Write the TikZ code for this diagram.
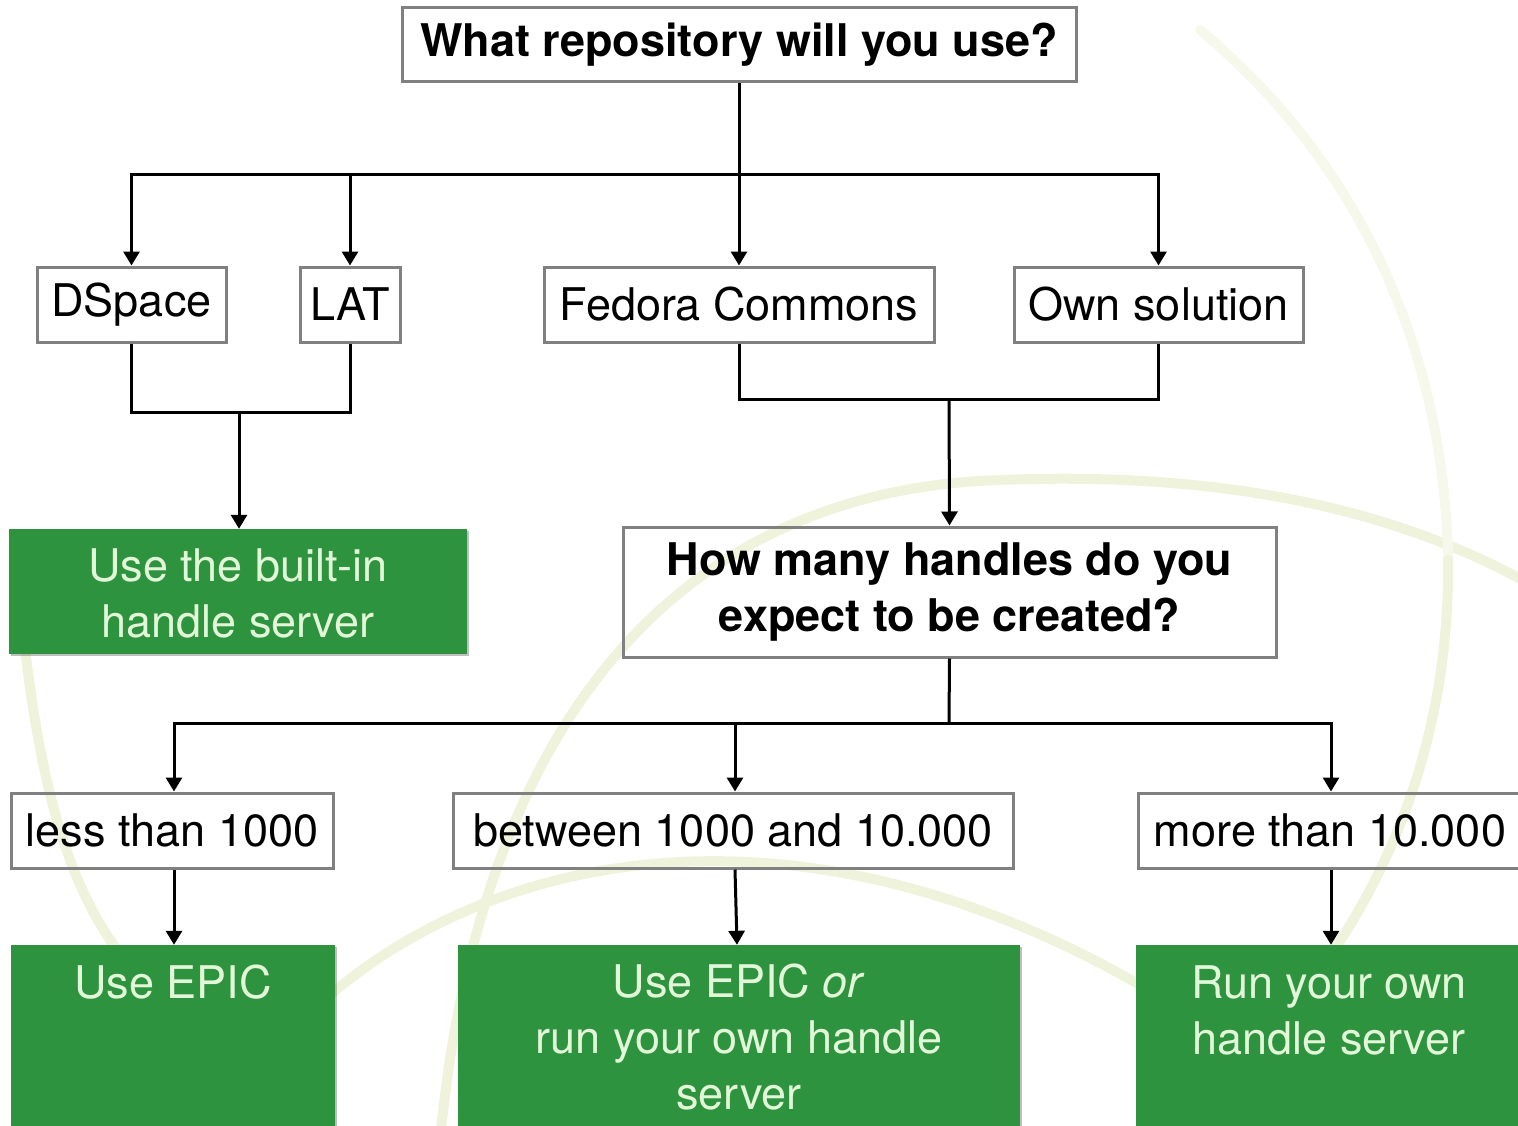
\documentclass[tikz,border=0pt]{standalone}
\usepackage{fontspec}
\setmainfont{TeX Gyre Heros}
\usetikzlibrary{arrows.meta,shadows}
\definecolor{boxgray}{RGB}{128,128,128}
\definecolor{ugreen}{RGB}{46,147,62}
\definecolor{gtextc}{RGB}{226,246,216}
\definecolor{arcc}{RGB}{239,243,220}
\tikzset{
  qbox/.style={draw=boxgray, line width=3pt, inner sep=0pt, align=center,
    font=\bfseries\fontsize{45}{56}\selectfont},
  obox/.style={draw=boxgray, line width=3pt, inner sep=0pt, minimum height=75pt,
    font=\fontsize{45}{56}\selectfont},
  gbox/.style={fill=ugreen, inner sep=0pt,
    drop shadow={shadow xshift=2pt, shadow yshift=-2pt, opacity=0.25, fill=black}},
  gtext/.style={text=gtextc, align=center, inner sep=0pt,
    font=\fontsize{45}{56}\selectfont},
  conn/.style={line width=3pt, black},
  arr/.style={conn, -{Triangle[width=16pt,length=14pt]}},
  arcline/.style={line width=10pt, color=arcc, line cap=round}
}
\begin{document}
\begin{tikzpicture}[x=1pt,y=-1pt]
\useasboundingbox (0,0) rectangle (1518,1126);
\clip (0,0) rectangle (1518,1126);
% background arcs
\draw[arcline] (440,1140) .. controls (480,720) and (680,490) .. (1000,480)
  .. controls (1250,470) and (1420,520) .. (1540,590);
\draw[arcline, color=arcc!55] (1200,30) .. controls (1380,180) and (1445,380) .. (1448,560);
\draw[arcline] (1448,560) .. controls (1450,720) and (1400,860) .. (1320,970);
\draw[arcline] (15,540) .. controls (30,750) and (60,880) .. (125,960);
\draw[arcline] (330,995) .. controls (500,850) and (800,790) .. (1140,985);

% top level
\node[qbox, minimum width=674pt, minimum height=74pt] (q1) at (739,45) {What repository will you use?};
\node[obox, minimum width=189pt] (dspace) at (131.5,304.5) {DSpace};
\node[obox, minimum width=100pt] (lat) at (350,304.5) {LAT};
\node[obox, minimum width=390pt] (fedora) at (739,304.5) {Fedora Commons};
\node[obox, minimum width=289pt] (own) at (1158.5,304.5) {Own solution};

\coordinate (j1) at (739,175);
\draw[conn] (q1.south) -- (j1);
\draw[arr] (j1) -| (dspace.north);
\draw[arr] (j1) -| (lat.north);
\draw[arr] (j1) -- (fedora.north);
\draw[arr] (j1) -| (own.north);

% built-in
\node[gbox, minimum width=458pt, minimum height=125pt] (builtin) at (238,591.5) {};
\node[gtext] (builtintxt) at (238,593) {Use the built-in\\handle server};
\coordinate (j2) at (239,412);
\draw[conn] (dspace.south) |- (j2);
\draw[conn] (lat.south) |- (j2);
\draw[arr] (j2) -- (j2 |- builtin.north);

% how many
\node[qbox, minimum width=653pt, minimum height=130pt] (q2) at (949.5,592) {How many handles do you\\expect to be created?};
\coordinate (j3) at (949,399);
\draw[conn] (fedora.south) |- (j3);
\draw[conn] (own.south) |- (j3);
\draw[arr] (j3) -- (q2.north);

% counts
\node[obox, minimum width=322pt] (less) at (172,830.5) {less than 1000};
\node[obox, minimum width=560pt] (between) at (733,830.5) {between 1000 and 10.000};
\node[obox, minimum width=384pt] (more) at (1330,830.5) {more than 10.000};
\coordinate (j4) at (949,723);
\draw[conn] (q2.south) -- (j4);
\draw[arr] (j4) -| ([xshift=2pt]less.north);
\draw[arr] (j4) -| ([xshift=2pt]between.north);
\draw[arr] (j4) -| ([xshift=1pt]more.north);

% outcomes
\node[gbox, minimum width=324pt, minimum height=200pt] (epic) at (173,1045) {};
\node[gtext] (epictxt) at (173,982) {Use EPIC};
\node[gbox, minimum width=562pt, minimum height=200pt] (epicor) at (739,1045) {};
\node[gtext] (epicortxt) at (739,1037) {Use EPIC \textit{or}\\run your own handle\\server};
\node[gbox, minimum width=386pt, minimum height=200pt] (runown) at (1329,1045) {};
\node[gtext] (runowntxt) at (1329,1010) {Run your own\\handle server};

\draw[arr] ([xshift=2pt]less.south) -- ([xshift=2pt]less.south |- epic.north);
\draw[arr] ([xshift=2pt]between.south) -- ([xshift=4pt]between.south |- epicor.north);
\draw[arr] ([xshift=1pt]more.south) -- ([xshift=1pt]more.south |- runown.north);
\end{tikzpicture}
\end{document}
